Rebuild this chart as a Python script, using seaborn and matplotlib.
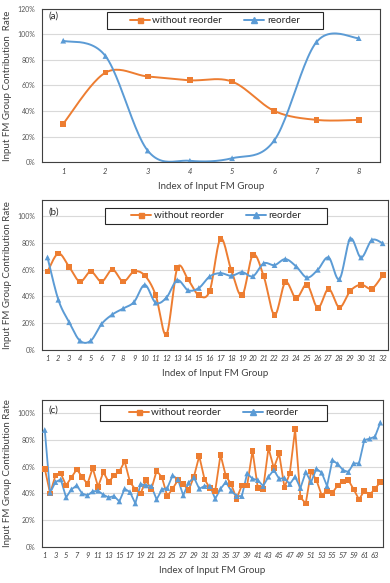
import numpy as np
import pandas as pd
import matplotlib
matplotlib.use("Agg")
import matplotlib.pyplot as plt
from matplotlib.lines import Line2D
from matplotlib.patches import Rectangle
import seaborn as sns

# Values (percent)
a_index = list(range(1, 9))
a_without = [30, 70, 67, 64, 63, 40, 33, 33]
a_reorder = [95, 83, 9, 1, 3, 17, 94, 97]

b_index = list(range(1, 33))
b_without = [58.5, 72, 62, 51, 58.5, 51, 60, 51, 58.5, 55.5, 41, 11.5, 61, 52.5, 40.7, 44,
             83, 59.5, 40.7, 71, 55, 26, 50.5, 38.5, 48.7, 31.4, 45.5, 31.7, 44, 48.7, 45.7, 55.8]
b_reorder = [69, 37.4, 20.6, 6.8, 6.8, 19.3, 26.4, 30.9, 35.7, 48.5, 35.2, 39, 52, 44.5, 46.2, 54.8,
             57.3, 55.3, 58, 55, 64.6, 63.3, 67.8, 62.3, 54, 59.8, 69, 52.8, 83, 69, 82, 79.6]

c_index = list(range(1, 65))
c_without = [58.5, 40, 53.5, 55, 46, 52, 58, 52.5, 47, 59, 45, 56, 48.5, 53.5, 56.5, 64,
             48.5, 43, 40, 50, 43, 57, 52, 38, 43.5, 50, 47, 42.5, 52.5, 68, 50.5, 44,
             42, 69, 53, 47, 36, 46, 46, 72, 44, 43.5, 74, 59, 70, 44.5, 55, 88,
             37, 32.5, 56.5, 50, 38.5, 42, 40.5, 46, 49, 50, 43, 35.5, 42, 39, 43.5, 48.5]
c_reorder = [87.5, 40.5, 48.5, 50.5, 37, 43, 46, 40, 38.5, 41.5, 42, 39, 37, 38, 34, 43.5,
             41, 32.5, 47, 46, 45.5, 35.5, 43, 44, 53.5, 50.5, 38.5, 48, 52, 43.5, 45.5, 45.5,
             36, 43.5, 48.5, 42, 38, 38, 55, 51, 50, 45.5, 52.5, 57.5, 51, 51.5, 47, 52.5,
             44, 56, 48.5, 58.5, 55.5, 45.5, 65, 62, 57.5, 56, 62.5, 62.5, 80, 81, 82.5, 93]

series_names = ["without reorder", "reorder"]
ORANGE = "#ED7D31"
BLUE = "#5B9BD5"

sns.set_theme(style="whitegrid")
plt.rcParams["font.family"] = ["Lato", "DejaVu Sans"]


def smooth(x, y, n=24):
    # Excel-like smoothed line (cubic Bezier through the points)
    x = np.asarray(x, float)
    y = np.asarray(y, float)
    px = np.r_[x[0], x, x[-1]]
    py = np.r_[y[0], y, y[-1]]
    t = np.linspace(0, 1, n, endpoint=False)
    xs, ys = [], []
    for i in range(1, len(px) - 2):
        for p, out in ((px, xs), (py, ys)):
            p0, p1, p2, p3 = p[i - 1], p[i], p[i + 1], p[i + 2]
            c1 = p1 + (p2 - p0) / 6
            c2 = p2 - (p3 - p1) / 6
            out.extend((1 - t) ** 3 * p1 + 3 * (1 - t) ** 2 * t * c1
                       + 3 * (1 - t) * t ** 2 * c2 + t ** 3 * p2)
    xs.append(x[-1])
    ys.append(y[-1])
    return np.array(xs), np.array(ys)


def draw_panel(ax, idx, without, reorder, smoothed, ylim, yticks, xticks,
               letter, box, ylabel):
    lw = 1.4
    for vals, color, mk, ms in ((without, ORANGE, "s", 17), (reorder, BLUE, "^", 17)):
        if smoothed:
            sx, sy = smooth(idx, vals)
            ax.plot(sx, sy, color=color, lw=lw, zorder=2)
        else:
            sns.lineplot(x=idx, y=vals, color=color, lw=1.3, ax=ax, zorder=2)
        sns.scatterplot(x=idx, y=vals, marker=mk, s=ms, color=color,
                        edgecolor="none", ax=ax, zorder=3)

    ax.set_xlim(0.5, len(idx) + 0.5)
    ax.set_ylim(*ylim)
    ax.set_yticks(yticks)
    ax.set_yticklabels([f"{v}%" for v in yticks], fontsize=5, color="#595959")
    ax.set_xticks(xticks)
    ax.set_xticklabels([str(v) for v in xticks], fontsize=5.4, style="italic",
                       color="#404040")
    ax.tick_params(axis="y", pad=5, length=0)
    ax.tick_params(axis="x", pad=4, length=0)
    ax.grid(axis="x", visible=False)
    ax.grid(axis="y", color="#d9d9d9", lw=0.8)
    for s in ax.spines.values():
        s.set_visible(True)
        s.set_color("#404040")
        s.set_linewidth(0.8)
    ax.set_xlabel("Index of Input FM Group", fontsize=7, color="#404040", labelpad=5)
    ax.set_ylabel(ylabel, fontsize=7, color="#404040", labelpad=4)
    ax.text(0.018, box[4], letter, transform=ax.transAxes, fontsize=7,
            color="#262626", va="center", ha="left")

    # legend box
    x0, x1, y0, y1 = box[:4]
    ax.add_patch(Rectangle((x0, y0), x1 - x0, y1 - y0, transform=ax.transAxes,
                           facecolor="white", edgecolor="#262626", lw=0.8, zorder=4))
    handles = [Line2D([], [], color=ORANGE, lw=1.4, marker="s", ms=3.6),
               Line2D([], [], color=BLUE, lw=1.4, marker="^", ms=4.0)]
    leg = ax.legend(handles, series_names, loc="center", ncol=2, frameon=False,
                    bbox_to_anchor=((x0 + x1) / 2, (y0 + y1) / 2), fontsize=7.2,
                    handlelength=2.0, handletextpad=0.25, columnspacing=2.2,
                    borderpad=0.1)
    leg.set_zorder(5)
    for t in leg.get_texts():
        t.set_color("#262626")


fig = plt.figure(figsize=(3.9, 5.83), dpi=100)
ax_a = fig.add_axes([0.108, 0.722, 0.866, 0.263])
ax_b = fig.add_axes([0.108, 0.400, 0.887, 0.257])
ax_c = fig.add_axes([0.108, 0.062, 0.874, 0.252])

draw_panel(ax_a, a_index, a_without, a_reorder, True, (0, 120), list(range(0, 121, 20)),
           a_index, "(a)", (0.192, 0.831, 0.866, 0.977, 0.95),
           "Input FM Group Contribution  Rate")
draw_panel(ax_b, b_index, b_without, b_reorder, True, (0, 112), list(range(0, 101, 20)),
           b_index, "(b)", (0.182, 0.824, 0.84, 0.947, 0.92),
           "Input FM Group Contribution Rate")
draw_panel(ax_c, c_index, c_without, c_reorder, False, (0, 110), list(range(0, 101, 20)),
           c_index[::2], "(c)", (0.170, 0.836, 0.857, 0.966, 0.93),
           "Input FM Group Contribution Rate")

fig.savefig("out.png", dpi=100)
